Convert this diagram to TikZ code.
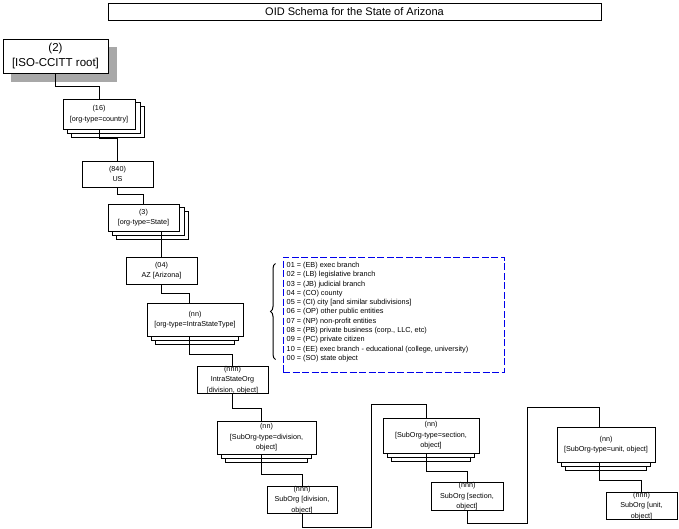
\documentclass[tikz,border=0pt]{standalone}
\usepackage{fontspec}
\setmainfont{Liberation Sans}
\usetikzlibrary{backgrounds,calc,decorations.pathreplacing}
\definecolor{shadowgray}{RGB}{168,168,168}
\definecolor{legendblue}{RGB}{0,0,235}
\newcommand\boxfs{\fontsize{7.2}{10.5}\selectfont}
\newcommand\legendfs{\fontsize{7.3}{9.3}\selectfont}
\newcommand\bigfs{\fontsize{11.5}{15}\selectfont}
\tikzset{
  box/.style={draw, fill=white, line width=1pt, inner sep=0pt, align=center, font=\boxfs},
  layer/.style={draw, fill=white, line width=1pt},
  conn/.style={line width=1pt},
}
\begin{document}
\begin{tikzpicture}[x=1pt,y=-1pt]
\useasboundingbox (0,0) rectangle (679,528);

% title
\node[box, font=\fontsize{11}{13}\selectfont, minimum width=493, minimum height=17] (title) at (354.5,11.5) {OID Schema for the State of Arizona};

% boxes
\node[box, font=\bigfs, minimum width=105, minimum height=34] (root) at (55.5,56) {(2)\\{}[ISO-CCITT root]};
\node[box, minimum width=72, minimum height=30] (c16) at (99,114) {(16)\\{}[org-type=country]};
\node[box, minimum width=71, minimum height=26] (us) at (117.5,174) {(840)\\US};
\node[box, minimum width=71, minimum height=27] (st) at (143.5,217.5) {(3)\\{}[org-type=State]};
\node[box, minimum width=71, minimum height=27] (az) at (161.5,270.5) {(04)\\AZ [Arizona]};
\node[box, minimum width=96, minimum height=33] (ist) at (195,319.5) {(nn)\\{}[org-type=IntraStateType]};
\node[box, minimum width=71, minimum height=26] (iso) at (232.5,380) {(nnn)\\IntraStateOrg\\{}[division, object]};
\node[box, minimum width=99, minimum height=33] (div) at (266.5,437.5) {(nn)\\{}[SubOrg-type=division,\\object]};
\node[box, minimum width=70, minimum height=26] (sdiv) at (302,500) {(nnn)\\SubOrg [division,\\object]};
\node[box, minimum width=96, minimum height=35] (sec) at (431,435.5) {(nn)\\{}[SubOrg-type=section,\\object]};
\node[box, minimum width=72, minimum height=27] (ssec) at (467,496.5) {(nnn)\\SubOrg [section,\\object]};
\node[box, minimum width=98, minimum height=35] (unit) at (606,444.5) {(nn)\\{}[SubOrg-type=unit, object]};
\node[box, minimum width=71, minimum height=26] (sunit) at (641.5,506) {(nnn)\\SubOrg [unit,\\object]};

% shadow and stacked layers
\begin{pgfonlayer}{background}
  \fill[shadowgray] ([shift={(8,8)}]root.north west) rectangle ([shift={(8,8)}]root.south east);
  \foreach \n in {c16,st}{
    \draw[layer] ([shift={(9,8)}]\n.north west) rectangle ([shift={(9,8)}]\n.south east);
    \draw[layer] ([shift={(4.5,4)}]\n.north west) rectangle ([shift={(4.5,4)}]\n.south east);
  }
  \foreach \n in {ist,div,sec,unit}{
    \draw[layer] ([shift={(9,8)}]\n.north west) rectangle ([shift={(-9,8)}]\n.south east);
    \draw[layer] ([shift={(5,4)}]\n.north west) rectangle ([shift={(-5,4)}]\n.south east);
  }
\end{pgfonlayer}

% connectors
\draw[conn] (root.south) -- ++(0,13) -| (c16.north);
\draw[conn] (c16.south) -- ++(0,9) -| (us.north);
\draw[conn] (us.south) -- ++(0,7) -| (st.north);
\draw[conn] (az.north) -- (az.north |- st.south);
\draw[conn] (az.south) -- ++(0,9) -| ([xshift=-6pt]ist.north);
\draw[conn] ([xshift=-6pt]ist.south) -- ++(0,18) -| (iso.north);
\draw[conn] (iso.south) -- ++(0,14) -| ([xshift=-5.5pt]div.north);
\draw[conn] ([xshift=-5.5pt]div.south) -- ++(0,20) -| (sdiv.north);
\draw[conn] (sdiv.south) -- ++(0,13) -| ($(sec.north)+(-60,-13)$) -| ([xshift=-5pt]sec.north);
\draw[conn] ([xshift=-5pt]sec.south) -- ++(0,18) -| (ssec.north);
\draw[conn] (ssec.south) -- ++(0,13) -| ($(unit.north)+(-79,-19)$) -| ([xshift=-7pt]unit.north);
\draw[conn] ([xshift=-7pt]unit.south) -- ++(0,18) -| (sunit.north);

% legend
\node[draw=legendblue, line width=1pt, dash pattern=on 7pt off 2.5pt, minimum width=221, minimum height=115, inner sep=0pt] (legend) at (393.5,314.5) {};
\node[anchor=north west, inner sep=0pt, align=left, font=\legendfs] (legendtext) at ($(legend.north west)+(4,5.5)$) {%
01 = (EB) exec branch\\
02 = (LB) legislative branch\\
03 = (JB) judicial branch\\
04 = (CO) county\\
05 = (CI) city [and similar subdivisions]\\
06 = (OP) other public entities\\
07 = (NP) non-profit entities\\
08 = (PB) private business (corp., LLC, etc)\\
09 = (PC) private citizen\\
10 = (EE) exec branch - educational (college, university)\\
00 = (SO) state object};
\coordinate (bracetop) at ($(legend.north west)+(-7,7)$);
\coordinate (bracebot) at ($(legend.north west)+(-7,103)$);
\draw[line width=1pt, decorate, decoration={brace, amplitude=5pt}] (bracebot) -- (bracetop);
\end{tikzpicture}
\end{document}
